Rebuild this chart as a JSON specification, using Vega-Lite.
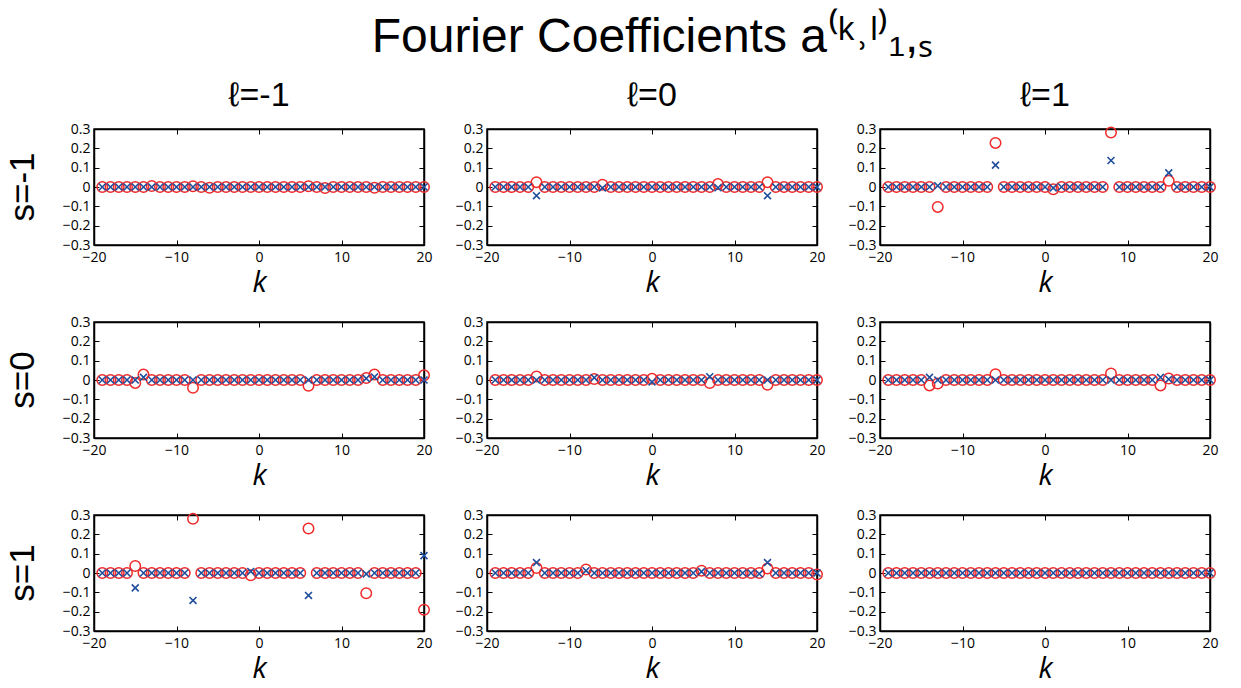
{
  "$schema": "https://vega.github.io/schema/vega-lite/v6.json",
  "padding": {"left": 5, "top": 14, "right": 5, "bottom": 0},
  "background": "white",
  "title": {"text": "Fourier Coefficients  a⁽ᵏ˒ˡ⁾₁,ₛ", "fontSize": 48, "font": "Liberation Sans", "fontWeight": "normal", "color": "black", "anchor": "middle", "offset": 17, "dx": 40},
  "datasets": {
    "pts": [
{"s":-1,"l":-1,"k":-19,"c":0,"x":0},{"s":-1,"l":-1,"k":-18,"c":0,"x":0},{"s":-1,"l":-1,"k":-17,"c":0,"x":0},{"s":-1,"l":-1,"k":-16,"c":0,"x":0},{"s":-1,"l":-1,"k":-15,"c":0,"x":0},{"s":-1,"l":-1,"k":-14,"c":0,"x":0},{"s":-1,"l":-1,"k":-13,"c":0.005,"x":0},{"s":-1,"l":-1,"k":-12,"c":0,"x":0},{"s":-1,"l":-1,"k":-11,"c":0,"x":0},{"s":-1,"l":-1,"k":-10,"c":0,"x":0},
{"s":-1,"l":-1,"k":-9,"c":0,"x":0},{"s":-1,"l":-1,"k":-8,"c":0.004,"x":0},{"s":-1,"l":-1,"k":-7,"c":0,"x":0},{"s":-1,"l":-1,"k":-6,"c":-0.004,"x":0},{"s":-1,"l":-1,"k":-5,"c":0,"x":0},{"s":-1,"l":-1,"k":-4,"c":0,"x":0},{"s":-1,"l":-1,"k":-3,"c":0,"x":0},{"s":-1,"l":-1,"k":-2,"c":0,"x":0},{"s":-1,"l":-1,"k":-1,"c":0,"x":0},{"s":-1,"l":-1,"k":0,"c":0,"x":0},
{"s":-1,"l":-1,"k":1,"c":0,"x":0},{"s":-1,"l":-1,"k":2,"c":0,"x":0},{"s":-1,"l":-1,"k":3,"c":0,"x":0},{"s":-1,"l":-1,"k":4,"c":0,"x":0},{"s":-1,"l":-1,"k":5,"c":0,"x":0},{"s":-1,"l":-1,"k":6,"c":0.004,"x":0},{"s":-1,"l":-1,"k":7,"c":0,"x":0},{"s":-1,"l":-1,"k":8,"c":-0.005,"x":0},{"s":-1,"l":-1,"k":9,"c":0,"x":0},{"s":-1,"l":-1,"k":10,"c":0,"x":0},
{"s":-1,"l":-1,"k":11,"c":0,"x":0},{"s":-1,"l":-1,"k":12,"c":0,"x":0},{"s":-1,"l":-1,"k":13,"c":0,"x":0},{"s":-1,"l":-1,"k":14,"c":-0.004,"x":0},{"s":-1,"l":-1,"k":15,"c":0,"x":0},{"s":-1,"l":-1,"k":16,"c":0,"x":0},{"s":-1,"l":-1,"k":17,"c":0,"x":0},{"s":-1,"l":-1,"k":18,"c":0,"x":0},{"s":-1,"l":-1,"k":19,"c":0,"x":0},{"s":-1,"l":-1,"k":20,"c":0,"x":0},

{"s":-1,"l":0,"k":-19,"c":0,"x":0},{"s":-1,"l":0,"k":-18,"c":0,"x":0},{"s":-1,"l":0,"k":-17,"c":0,"x":0},{"s":-1,"l":0,"k":-16,"c":0,"x":0},{"s":-1,"l":0,"k":-15,"c":0,"x":0},{"s":-1,"l":0,"k":-14,"c":0.025,"x":-0.045},{"s":-1,"l":0,"k":-13,"c":0,"x":0},{"s":-1,"l":0,"k":-12,"c":0,"x":0},{"s":-1,"l":0,"k":-11,"c":0,"x":0},{"s":-1,"l":0,"k":-10,"c":0,"x":0},
{"s":-1,"l":0,"k":-9,"c":0,"x":0},{"s":-1,"l":0,"k":-8,"c":0,"x":0},{"s":-1,"l":0,"k":-7,"c":0,"x":0},{"s":-1,"l":0,"k":-6,"c":0.012,"x":-0.005},{"s":-1,"l":0,"k":-5,"c":0,"x":0},{"s":-1,"l":0,"k":-4,"c":0,"x":0},{"s":-1,"l":0,"k":-3,"c":0,"x":0},{"s":-1,"l":0,"k":-2,"c":0,"x":0},{"s":-1,"l":0,"k":-1,"c":0,"x":0},{"s":-1,"l":0,"k":0,"c":0,"x":0},
{"s":-1,"l":0,"k":1,"c":0,"x":0},{"s":-1,"l":0,"k":2,"c":0,"x":0},{"s":-1,"l":0,"k":3,"c":0,"x":0},{"s":-1,"l":0,"k":4,"c":0,"x":0},{"s":-1,"l":0,"k":5,"c":0,"x":0},{"s":-1,"l":0,"k":6,"c":0,"x":0},{"s":-1,"l":0,"k":7,"c":0,"x":0},{"s":-1,"l":0,"k":8,"c":0.015,"x":-0.004},{"s":-1,"l":0,"k":9,"c":0,"x":0},{"s":-1,"l":0,"k":10,"c":0,"x":0},
{"s":-1,"l":0,"k":11,"c":0,"x":0},{"s":-1,"l":0,"k":12,"c":0,"x":0},{"s":-1,"l":0,"k":13,"c":0,"x":0},{"s":-1,"l":0,"k":14,"c":0.025,"x":-0.045},{"s":-1,"l":0,"k":15,"c":0,"x":0},{"s":-1,"l":0,"k":16,"c":0,"x":0},{"s":-1,"l":0,"k":17,"c":0,"x":0},{"s":-1,"l":0,"k":18,"c":0,"x":0},{"s":-1,"l":0,"k":19,"c":0,"x":0},{"s":-1,"l":0,"k":20,"c":0,"x":0},

{"s":-1,"l":1,"k":-19,"c":0,"x":0},{"s":-1,"l":1,"k":-18,"c":0,"x":0},{"s":-1,"l":1,"k":-17,"c":0,"x":0},{"s":-1,"l":1,"k":-16,"c":0,"x":0},{"s":-1,"l":1,"k":-15,"c":0,"x":0},{"s":-1,"l":1,"k":-14,"c":0,"x":0},{"s":-1,"l":1,"k":-13,"c":-0.103,"x":0.006},{"s":-1,"l":1,"k":-12,"c":0,"x":0},{"s":-1,"l":1,"k":-11,"c":0,"x":0},{"s":-1,"l":1,"k":-10,"c":0,"x":0},
{"s":-1,"l":1,"k":-9,"c":0,"x":0},{"s":-1,"l":1,"k":-8,"c":0,"x":0},{"s":-1,"l":1,"k":-7,"c":0,"x":0},{"s":-1,"l":1,"k":-6,"c":0.228,"x":0.113},{"s":-1,"l":1,"k":-5,"c":0,"x":0},{"s":-1,"l":1,"k":-4,"c":0,"x":0},{"s":-1,"l":1,"k":-3,"c":0,"x":0},{"s":-1,"l":1,"k":-2,"c":0,"x":0},{"s":-1,"l":1,"k":-1,"c":0,"x":0},{"s":-1,"l":1,"k":0,"c":0,"x":0},
{"s":-1,"l":1,"k":1,"c":-0.012,"x":-0.005},{"s":-1,"l":1,"k":2,"c":0,"x":0},{"s":-1,"l":1,"k":3,"c":0,"x":0},{"s":-1,"l":1,"k":4,"c":0,"x":0},{"s":-1,"l":1,"k":5,"c":0,"x":0},{"s":-1,"l":1,"k":6,"c":0,"x":0},{"s":-1,"l":1,"k":7,"c":0,"x":0},{"s":-1,"l":1,"k":8,"c":0.282,"x":0.137},{"s":-1,"l":1,"k":9,"c":0,"x":0},{"s":-1,"l":1,"k":10,"c":0,"x":0},
{"s":-1,"l":1,"k":11,"c":0,"x":0},{"s":-1,"l":1,"k":12,"c":0,"x":0},{"s":-1,"l":1,"k":13,"c":0,"x":0},{"s":-1,"l":1,"k":14,"c":0,"x":0},{"s":-1,"l":1,"k":15,"c":0.032,"x":0.073},{"s":-1,"l":1,"k":16,"c":0,"x":0},{"s":-1,"l":1,"k":17,"c":0,"x":0},{"s":-1,"l":1,"k":18,"c":0,"x":0},{"s":-1,"l":1,"k":19,"c":0,"x":0},{"s":-1,"l":1,"k":20,"c":0,"x":0},

{"s":0,"l":-1,"k":-19,"c":0,"x":0},{"s":0,"l":-1,"k":-18,"c":0,"x":0},{"s":0,"l":-1,"k":-17,"c":0,"x":0},{"s":0,"l":-1,"k":-16,"c":0,"x":0},{"s":0,"l":-1,"k":-15,"c":-0.015,"x":0},{"s":0,"l":-1,"k":-14,"c":0.028,"x":0.014},{"s":0,"l":-1,"k":-13,"c":0,"x":0},{"s":0,"l":-1,"k":-12,"c":0,"x":0},{"s":0,"l":-1,"k":-11,"c":0,"x":0},{"s":0,"l":-1,"k":-10,"c":0,"x":0},
{"s":0,"l":-1,"k":-9,"c":0,"x":0},{"s":0,"l":-1,"k":-8,"c":-0.04,"x":0},{"s":0,"l":-1,"k":-7,"c":0,"x":0},{"s":0,"l":-1,"k":-6,"c":0,"x":0},{"s":0,"l":-1,"k":-5,"c":0,"x":0},{"s":0,"l":-1,"k":-4,"c":0,"x":0},{"s":0,"l":-1,"k":-3,"c":0,"x":0},{"s":0,"l":-1,"k":-2,"c":0,"x":0},{"s":0,"l":-1,"k":-1,"c":0,"x":0},{"s":0,"l":-1,"k":0,"c":0,"x":0},
{"s":0,"l":-1,"k":1,"c":0,"x":0},{"s":0,"l":-1,"k":2,"c":0,"x":0},{"s":0,"l":-1,"k":3,"c":0,"x":0},{"s":0,"l":-1,"k":4,"c":0,"x":0},{"s":0,"l":-1,"k":5,"c":0,"x":0},{"s":0,"l":-1,"k":6,"c":-0.03,"x":0},{"s":0,"l":-1,"k":7,"c":0,"x":0},{"s":0,"l":-1,"k":8,"c":0,"x":0},{"s":0,"l":-1,"k":9,"c":0,"x":0},{"s":0,"l":-1,"k":10,"c":0,"x":0},
{"s":0,"l":-1,"k":11,"c":0,"x":0},{"s":0,"l":-1,"k":12,"c":0,"x":0},{"s":0,"l":-1,"k":13,"c":0.01,"x":0.008},{"s":0,"l":-1,"k":14,"c":0.028,"x":0.016},{"s":0,"l":-1,"k":15,"c":0,"x":0},{"s":0,"l":-1,"k":16,"c":0,"x":0},{"s":0,"l":-1,"k":17,"c":0,"x":0},{"s":0,"l":-1,"k":18,"c":0,"x":0},{"s":0,"l":-1,"k":19,"c":0,"x":0},{"s":0,"l":-1,"k":20,"c":0.024,"x":0},

{"s":0,"l":0,"k":-19,"c":0,"x":0},{"s":0,"l":0,"k":-18,"c":0,"x":0},{"s":0,"l":0,"k":-17,"c":0,"x":0},{"s":0,"l":0,"k":-16,"c":0,"x":0},{"s":0,"l":0,"k":-15,"c":0,"x":0},{"s":0,"l":0,"k":-14,"c":0.018,"x":0},{"s":0,"l":0,"k":-13,"c":0,"x":0},{"s":0,"l":0,"k":-12,"c":0,"x":0},{"s":0,"l":0,"k":-11,"c":0,"x":0},{"s":0,"l":0,"k":-10,"c":0,"x":0},
{"s":0,"l":0,"k":-9,"c":0,"x":0},{"s":0,"l":0,"k":-8,"c":0,"x":0},{"s":0,"l":0,"k":-7,"c":0.005,"x":0.012},{"s":0,"l":0,"k":-6,"c":0,"x":0},{"s":0,"l":0,"k":-5,"c":0,"x":0},{"s":0,"l":0,"k":-4,"c":0,"x":0},{"s":0,"l":0,"k":-3,"c":0,"x":0},{"s":0,"l":0,"k":-2,"c":0,"x":0},{"s":0,"l":0,"k":-1,"c":0,"x":0},{"s":0,"l":0,"k":0,"c":0.006,"x":-0.01},
{"s":0,"l":0,"k":1,"c":0,"x":0},{"s":0,"l":0,"k":2,"c":0,"x":0},{"s":0,"l":0,"k":3,"c":0,"x":0},{"s":0,"l":0,"k":4,"c":0,"x":0},{"s":0,"l":0,"k":5,"c":0,"x":0},{"s":0,"l":0,"k":6,"c":0,"x":0},{"s":0,"l":0,"k":7,"c":-0.016,"x":0.017},{"s":0,"l":0,"k":8,"c":0,"x":0},{"s":0,"l":0,"k":9,"c":0,"x":0},{"s":0,"l":0,"k":10,"c":0,"x":0},
{"s":0,"l":0,"k":11,"c":0,"x":0},{"s":0,"l":0,"k":12,"c":0,"x":0},{"s":0,"l":0,"k":13,"c":0,"x":0},{"s":0,"l":0,"k":14,"c":-0.025,"x":0},{"s":0,"l":0,"k":15,"c":0,"x":0},{"s":0,"l":0,"k":16,"c":0,"x":0},{"s":0,"l":0,"k":17,"c":0,"x":0},{"s":0,"l":0,"k":18,"c":0,"x":0},{"s":0,"l":0,"k":19,"c":0,"x":0},{"s":0,"l":0,"k":20,"c":0,"x":0},

{"s":0,"l":1,"k":-19,"c":0,"x":0},{"s":0,"l":1,"k":-18,"c":0,"x":0},{"s":0,"l":1,"k":-17,"c":0,"x":0},{"s":0,"l":1,"k":-16,"c":0,"x":0},{"s":0,"l":1,"k":-15,"c":0,"x":0},{"s":0,"l":1,"k":-14,"c":-0.028,"x":0.014},{"s":0,"l":1,"k":-13,"c":-0.018,"x":0},{"s":0,"l":1,"k":-12,"c":0,"x":0},{"s":0,"l":1,"k":-11,"c":0,"x":0},{"s":0,"l":1,"k":-10,"c":0,"x":0},
{"s":0,"l":1,"k":-9,"c":0,"x":0},{"s":0,"l":1,"k":-8,"c":0,"x":0},{"s":0,"l":1,"k":-7,"c":0,"x":0},{"s":0,"l":1,"k":-6,"c":0.03,"x":0},{"s":0,"l":1,"k":-5,"c":0,"x":0},{"s":0,"l":1,"k":-4,"c":0,"x":0},{"s":0,"l":1,"k":-3,"c":0,"x":0},{"s":0,"l":1,"k":-2,"c":0,"x":0},{"s":0,"l":1,"k":-1,"c":0,"x":0},{"s":0,"l":1,"k":0,"c":0,"x":0},
{"s":0,"l":1,"k":1,"c":0,"x":0},{"s":0,"l":1,"k":2,"c":0,"x":0},{"s":0,"l":1,"k":3,"c":0,"x":0},{"s":0,"l":1,"k":4,"c":0,"x":0},{"s":0,"l":1,"k":5,"c":0,"x":0},{"s":0,"l":1,"k":6,"c":0,"x":0},{"s":0,"l":1,"k":7,"c":0,"x":0},{"s":0,"l":1,"k":8,"c":0.034,"x":0},{"s":0,"l":1,"k":9,"c":0,"x":0},{"s":0,"l":1,"k":10,"c":0,"x":0},
{"s":0,"l":1,"k":11,"c":0,"x":0},{"s":0,"l":1,"k":12,"c":0,"x":0},{"s":0,"l":1,"k":13,"c":0,"x":0},{"s":0,"l":1,"k":14,"c":-0.028,"x":0.014},{"s":0,"l":1,"k":15,"c":0.008,"x":0.004},{"s":0,"l":1,"k":16,"c":0,"x":0},{"s":0,"l":1,"k":17,"c":0,"x":0},{"s":0,"l":1,"k":18,"c":0,"x":0},{"s":0,"l":1,"k":19,"c":0,"x":0},{"s":0,"l":1,"k":20,"c":0,"x":0},

{"s":1,"l":-1,"k":-19,"c":0,"x":0},{"s":1,"l":-1,"k":-18,"c":0,"x":0},{"s":1,"l":-1,"k":-17,"c":0,"x":0},{"s":1,"l":-1,"k":-16,"c":0,"x":0},{"s":1,"l":-1,"k":-15,"c":0.036,"x":-0.077},{"s":1,"l":-1,"k":-14,"c":0,"x":0},{"s":1,"l":-1,"k":-13,"c":0,"x":0},{"s":1,"l":-1,"k":-12,"c":0,"x":0},{"s":1,"l":-1,"k":-11,"c":0,"x":0},{"s":1,"l":-1,"k":-10,"c":0,"x":0},
{"s":1,"l":-1,"k":-9,"c":0,"x":0},{"s":1,"l":-1,"k":-8,"c":0.28,"x":-0.142},{"s":1,"l":-1,"k":-7,"c":0,"x":0},{"s":1,"l":-1,"k":-6,"c":0,"x":0},{"s":1,"l":-1,"k":-5,"c":0,"x":0},{"s":1,"l":-1,"k":-4,"c":0,"x":0},{"s":1,"l":-1,"k":-3,"c":0,"x":0},{"s":1,"l":-1,"k":-2,"c":0,"x":0},{"s":1,"l":-1,"k":-1,"c":-0.012,"x":0.008},{"s":1,"l":-1,"k":0,"c":0,"x":0},
{"s":1,"l":-1,"k":1,"c":0,"x":0},{"s":1,"l":-1,"k":2,"c":0,"x":0},{"s":1,"l":-1,"k":3,"c":0,"x":0},{"s":1,"l":-1,"k":4,"c":0,"x":0},{"s":1,"l":-1,"k":5,"c":0,"x":0},{"s":1,"l":-1,"k":6,"c":0.23,"x":-0.116},{"s":1,"l":-1,"k":7,"c":0,"x":0},{"s":1,"l":-1,"k":8,"c":0,"x":0},{"s":1,"l":-1,"k":9,"c":0,"x":0},{"s":1,"l":-1,"k":10,"c":0,"x":0},
{"s":1,"l":-1,"k":11,"c":0,"x":0},{"s":1,"l":-1,"k":12,"c":0,"x":0},{"s":1,"l":-1,"k":13,"c":-0.105,"x":-0.005},{"s":1,"l":-1,"k":14,"c":0,"x":0},{"s":1,"l":-1,"k":15,"c":0,"x":0},{"s":1,"l":-1,"k":16,"c":0,"x":0},{"s":1,"l":-1,"k":17,"c":0,"x":0},{"s":1,"l":-1,"k":18,"c":0,"x":0},{"s":1,"l":-1,"k":19,"c":0,"x":0},{"s":1,"l":-1,"k":20,"c":-0.19,"x":0.09},

{"s":1,"l":0,"k":-19,"c":0,"x":0},{"s":1,"l":0,"k":-18,"c":0,"x":0},{"s":1,"l":0,"k":-17,"c":0,"x":0},{"s":1,"l":0,"k":-16,"c":0,"x":0},{"s":1,"l":0,"k":-15,"c":0,"x":0},{"s":1,"l":0,"k":-14,"c":0.026,"x":0.054},{"s":1,"l":0,"k":-13,"c":0,"x":0},{"s":1,"l":0,"k":-12,"c":0,"x":0},{"s":1,"l":0,"k":-11,"c":0,"x":0},{"s":1,"l":0,"k":-10,"c":0,"x":0},
{"s":1,"l":0,"k":-9,"c":0,"x":0},{"s":1,"l":0,"k":-8,"c":0.018,"x":0.012},{"s":1,"l":0,"k":-7,"c":0,"x":0},{"s":1,"l":0,"k":-6,"c":0,"x":0},{"s":1,"l":0,"k":-5,"c":0,"x":0},{"s":1,"l":0,"k":-4,"c":0,"x":0},{"s":1,"l":0,"k":-3,"c":0,"x":0},{"s":1,"l":0,"k":-2,"c":0,"x":0},{"s":1,"l":0,"k":-1,"c":0,"x":0},{"s":1,"l":0,"k":0,"c":0,"x":0},
{"s":1,"l":0,"k":1,"c":0,"x":0},{"s":1,"l":0,"k":2,"c":0,"x":0},{"s":1,"l":0,"k":3,"c":0,"x":0},{"s":1,"l":0,"k":4,"c":0,"x":0},{"s":1,"l":0,"k":5,"c":0,"x":0},{"s":1,"l":0,"k":6,"c":0.012,"x":0.007},{"s":1,"l":0,"k":7,"c":0,"x":0},{"s":1,"l":0,"k":8,"c":0,"x":0},{"s":1,"l":0,"k":9,"c":0,"x":0},{"s":1,"l":0,"k":10,"c":0,"x":0},
{"s":1,"l":0,"k":11,"c":0,"x":0},{"s":1,"l":0,"k":12,"c":0,"x":0},{"s":1,"l":0,"k":13,"c":0,"x":-0.004},{"s":1,"l":0,"k":14,"c":0.023,"x":0.054},{"s":1,"l":0,"k":15,"c":0,"x":0},{"s":1,"l":0,"k":16,"c":0,"x":0},{"s":1,"l":0,"k":17,"c":0,"x":0},{"s":1,"l":0,"k":18,"c":0,"x":0},{"s":1,"l":0,"k":19,"c":0,"x":0},{"s":1,"l":0,"k":20,"c":-0.008,"x":0},

{"s":1,"l":1,"k":-19,"c":0,"x":0},{"s":1,"l":1,"k":-18,"c":0,"x":0},{"s":1,"l":1,"k":-17,"c":0,"x":0},{"s":1,"l":1,"k":-16,"c":0,"x":0},{"s":1,"l":1,"k":-15,"c":0,"x":0},{"s":1,"l":1,"k":-14,"c":0,"x":0},{"s":1,"l":1,"k":-13,"c":0,"x":0},{"s":1,"l":1,"k":-12,"c":0,"x":0},{"s":1,"l":1,"k":-11,"c":0,"x":0},{"s":1,"l":1,"k":-10,"c":0,"x":0},
{"s":1,"l":1,"k":-9,"c":0,"x":0},{"s":1,"l":1,"k":-8,"c":0,"x":0},{"s":1,"l":1,"k":-7,"c":0,"x":0},{"s":1,"l":1,"k":-6,"c":0,"x":0},{"s":1,"l":1,"k":-5,"c":0,"x":0},{"s":1,"l":1,"k":-4,"c":0,"x":0},{"s":1,"l":1,"k":-3,"c":0,"x":0},{"s":1,"l":1,"k":-2,"c":0,"x":0},{"s":1,"l":1,"k":-1,"c":0,"x":0},{"s":1,"l":1,"k":0,"c":0,"x":0},
{"s":1,"l":1,"k":1,"c":0,"x":0},{"s":1,"l":1,"k":2,"c":0,"x":0},{"s":1,"l":1,"k":3,"c":0,"x":0},{"s":1,"l":1,"k":4,"c":0,"x":0},{"s":1,"l":1,"k":5,"c":0,"x":0},{"s":1,"l":1,"k":6,"c":0,"x":0},{"s":1,"l":1,"k":7,"c":0,"x":0},{"s":1,"l":1,"k":8,"c":0,"x":0},{"s":1,"l":1,"k":9,"c":0,"x":0},{"s":1,"l":1,"k":10,"c":0,"x":0},
{"s":1,"l":1,"k":11,"c":0,"x":0},{"s":1,"l":1,"k":12,"c":0,"x":0},{"s":1,"l":1,"k":13,"c":0,"x":0},{"s":1,"l":1,"k":14,"c":0,"x":0},{"s":1,"l":1,"k":15,"c":0,"x":0},{"s":1,"l":1,"k":16,"c":0,"x":0},{"s":1,"l":1,"k":17,"c":0,"x":0},{"s":1,"l":1,"k":18,"c":0,"x":0},{"s":1,"l":1,"k":19,"c":0,"x":0},{"s":1,"l":1,"k":20,"c":0,"x":0}
    ]
  },
  "data": {"name": "pts"},
  "facet": {
    "row": {"field": "s", "type": "ordinal", "header": {"title": null, "labelFontSize": 35, "labelFont": "Liberation Sans", "labelColor": "black", "labelAngle": -90, "labelOrient": "left", "labelPadding": 3, "labelExpr": "'s=' + datum.value"}},
    "column": {"field": "l", "type": "ordinal", "header": {"title": null, "labelFontSize": 34, "labelFont": "Liberation Sans", "labelColor": "black", "labelPadding": 8, "labelExpr": "'ℓ=' + datum.value"}}
  },
  "spacing": {"row": 16, "column": 21},
  "resolve": {"axis": {"x": "independent", "y": "independent"}},
  "spec": {
    "width": 330,
    "height": 116,
    "layer": [
      {"mark": {"type": "point", "shape": "circle", "filled": false, "stroke": "#f02a2a", "strokeWidth": 1.5, "size": 110, "opacity": 1},
       "encoding": {
         "x": {"field": "k", "type": "quantitative", "scale": {"domain": [-20, 20], "nice": false, "zero": false},
               "axis": {"orient": "bottom", "values": [-20, -10, 0, 10, 20], "format": "d", "labelFlush": false, "title": "k", "titleFontStyle": "italic", "titleFontSize": 29, "titleFont": "Open Sans", "titleFontWeight": "normal", "titlePadding": 4, "labelPadding": 10}},
         "y": {"field": "c", "type": "quantitative", "scale": {"domain": [-0.3, 0.3], "nice": false, "zero": false},
               "axis": {"orient": "left", "values": [-0.3, -0.2, -0.1, 0, 0.1, 0.2, 0.3], "format": ".1~f", "labelFlush": false, "title": null}}}},
      {"mark": {"type": "point", "shape": "M-1,-1L1,1M-1,1L1,-1", "filled": false, "stroke": "#1f4e9c", "strokeWidth": 1.6, "size": 48, "opacity": 1},
       "encoding": {
         "x": {"field": "k", "type": "quantitative",
               "axis": {"orient": "top", "values": [-20, -10, 0, 10, 20], "labels": false, "title": null}},
         "y": {"field": "x", "type": "quantitative",
               "axis": {"orient": "right", "values": [-0.3, -0.2, -0.1, 0, 0.1, 0.2, 0.3], "labels": false, "title": null}}}}
    ],
    "resolve": {"axis": {"x": "independent", "y": "independent"}}
  },
  "config": {
    "view": {"stroke": "black", "strokeWidth": 1.5},
    "axis": {"grid": false, "labelFlush": false, "domainColor": "black", "domainWidth": 1.5, "tickColor": "black", "tickWidth": 1, "tickSize": -5, "labelPadding": 9, "labelFont": "Open Sans", "labelFontSize": 14, "labelColor": "black"}
  }
}
